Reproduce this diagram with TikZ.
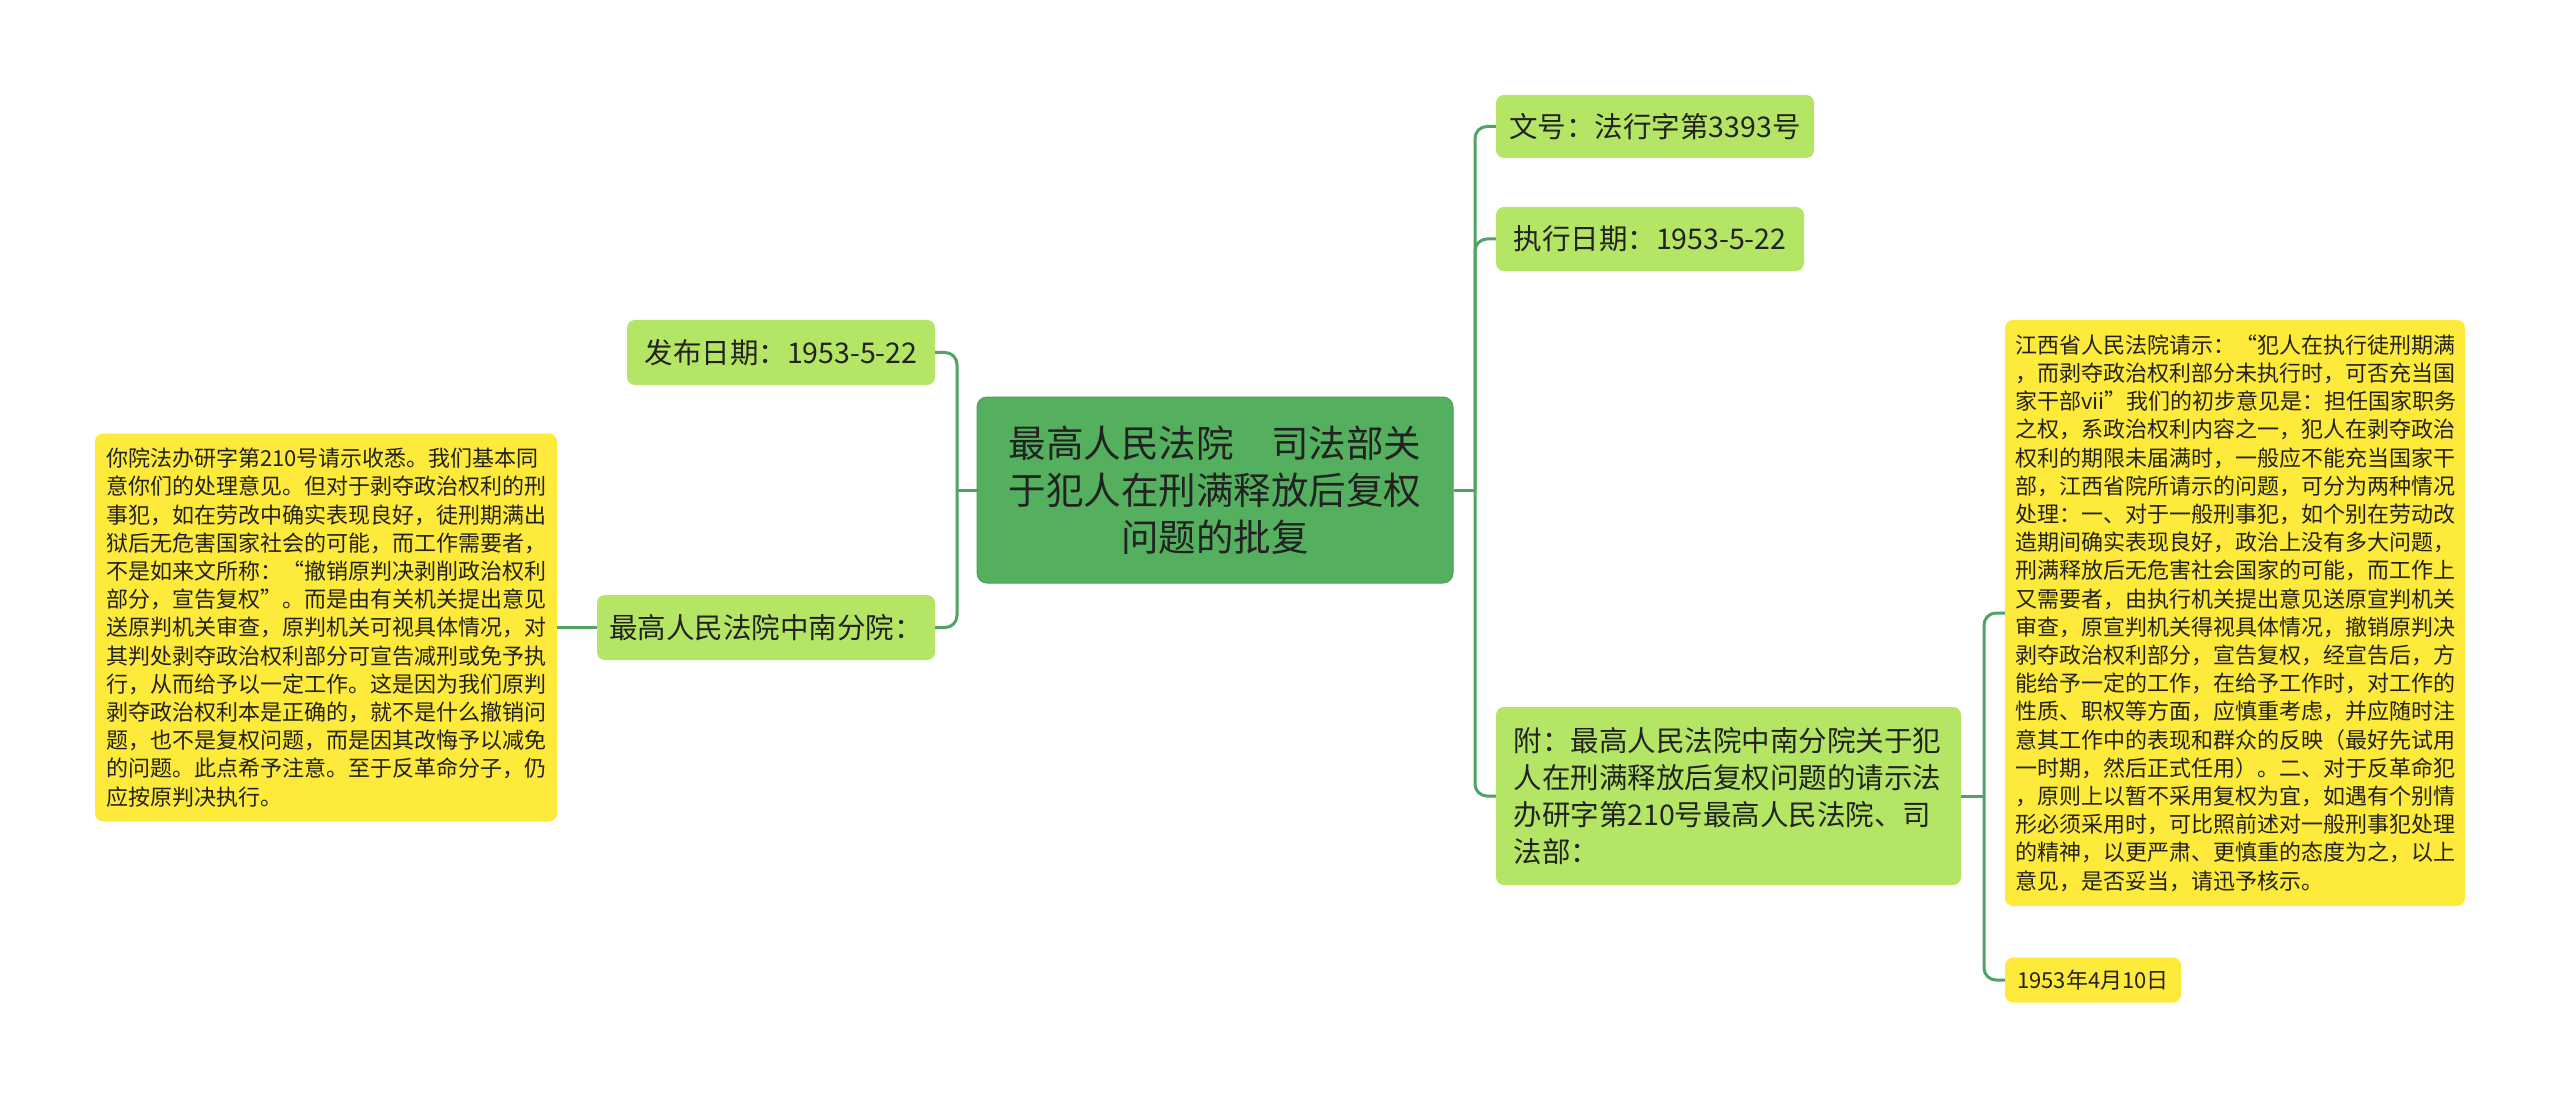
\documentclass[tikz,border=0pt]{standalone}
\usepackage{fontspec}
\setmainfont{Noto Sans CJK SC}
\definecolor{rootc}{RGB}{84,176,94}
\definecolor{rootd}{RGB}{72,160,84}
\definecolor{lvc}{RGB}{181,229,100}
\definecolor{notec}{RGB}{254,234,58}
\definecolor{linec}{RGB}{80,163,98}
\definecolor{txt}{RGB}{34,34,34}
\begin{document}
\begin{tikzpicture}[x=1pt,y=-1pt,
  box/.style={rounded corners=8pt, inner sep=0pt, text=txt},
  rootbox/.style={box, fill=rootc, draw=rootd, line width=1pt, rounded corners=10pt, minimum width=476pt, minimum height=186pt, align=center, font=\fontsize{37.5}{47}\selectfont},
  lv1/.style={box, fill=lvc, font=\fontsize{28.5}{37.3}\selectfont},
  note/.style={box, fill=notec, font=\fontsize{22}{28.2}\selectfont},
  conn/.style={draw=linec, line width=3pt, rounded corners=12pt}]
\useasboundingbox (0,0) rectangle (2560,1099);
\fill[white] (0,0) rectangle (2560,1099);

\node[rootbox] (root) at (1215,490) {最高人民法院　司法部关\\于犯人在刑满释放后复权\\问题的批复};

\node[lv1, minimum width=308pt, minimum height=65pt] (pub) at (781,352.5) {发布日期：1953-5-22};
\node[lv1, minimum width=338pt, minimum height=65pt] (zn) at (766,627.5) {最高人民法院中南分院：};

\node[note, text width=440pt, inner xsep=11pt, minimum height=388pt, align=left] (lnote) at (326,627.5) {你院法办研字第210号请示收悉。我们基本同\\
意你们的处理意见。但对于剥夺政治权利的刑\\
事犯，如在劳改中确实表现良好，徒刑期满出\\
狱后无危害国家社会的可能，而工作需要者，\\
不是如来文所称：“撤销原判决剥削政治权利\\
部分，宣告复权”。而是由有关机关提出意见\\
送原判机关审查，原判机关可视具体情况，对\\
其判处剥夺政治权利部分可宣告减刑或免予执\\
行，从而给予以一定工作。这是因为我们原判\\
剥夺政治权利本是正确的，就不是什么撤销问\\
题，也不是复权问题，而是因其改悔予以减免\\
的问题。此点希予注意。至于反革命分子，仍\\
应按原判决执行。};

\node[lv1, minimum width=318pt, minimum height=63pt] (wh) at (1655,126.5) {文号：法行字第3393号};
\node[lv1, minimum width=308pt, minimum height=64pt] (zx) at (1650,239) {执行日期：1953-5-22};
\node[lv1, text width=430pt, inner xsep=17.5pt, minimum height=178pt, align=left] (fu) at (1728.5,796) {附：最高人民法院中南分院关于犯\\
人在刑满释放后复权问题的请示法\\
办研字第210号最高人民法院、司\\
法部：};

\node[note, text width=440pt, inner xsep=10pt, minimum height=586pt, align=left] (rnote) at (2235,613) {江西省人民法院请示：“犯人在执行徒刑期满\\
，而剥夺政治权利部分未执行时，可否充当国\\
家干部vii”我们的初步意见是：担任国家职务\\
之权，系政治权利内容之一，犯人在剥夺政治\\
权利的期限未届满时，一般应不能充当国家干\\
部，江西省院所请示的问题，可分为两种情况\\
处理：一、对于一般刑事犯，如个别在劳动改\\
造期间确实表现良好，政治上没有多大问题，\\
刑满释放后无危害社会国家的可能，而工作上\\
又需要者，由执行机关提出意见送原宣判机关\\
审查，原宣判机关得视具体情况，撤销原判决\\
剥夺政治权利部分，宣告复权，经宣告后，方\\
能给予一定的工作，在给予工作时，对工作的\\
性质、职权等方面，应慎重考虑，并应随时注\\
意其工作中的表现和群众的反映（最好先试用\\
一时期，然后正式任用）。二、对于反革命犯\\
，原则上以暂不采用复权为宜，如遇有个别情\\
形必须采用时，可比照前述对一般刑事犯处理\\
的精神，以更严肃、更慎重的态度为之，以上\\
意见，是否妥当，请迅予核示。};

\node[note, minimum width=176pt, minimum height=45pt] (date) at (2093,980) {1953年4月10日};

\coordinate (lt) at (957,490);
\draw[conn] (root.west) -- (lt);
\draw[conn] (lt) |- (pub.east);
\draw[conn] (lt) |- (zn.east);
\draw[conn] (zn.west) -- (lnote.east |- zn.west);

\coordinate (rt) at (1475,490);
\draw[conn] (root.east) -- (rt);
\draw[conn] (rt) |- (wh.west);
\draw[conn] (rt) |- (zx.west);
\draw[conn] (rt) |- (fu.west);

\coordinate (ft) at (1984,796);
\draw[conn] (fu.east) -- (ft);
\draw[conn] (ft) |- (rnote.west);
\draw[conn] (ft) |- (date.west);
\end{tikzpicture}
\end{document}
